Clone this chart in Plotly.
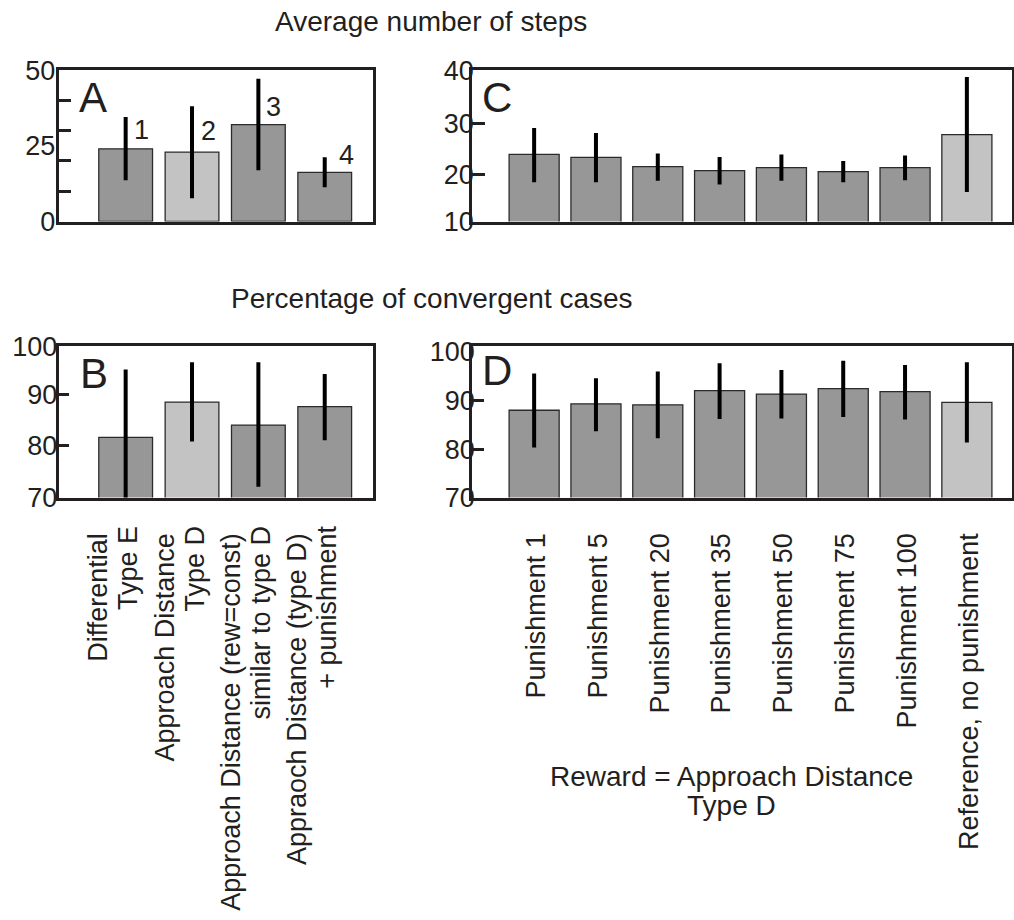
import plotly.graph_objects as go

# ---------------- data ----------------
cats_AB_line1 = [
    "Differential",
    "Approach Distance",
    "Approach Distance (rew=const)",
    "Appraoch Distance (type D)",
]
cats_AB_line2 = ["Type E", "Type D", "similar to type D", "+ punishment"]
cats_CD = [
    "Punishment 1", "Punishment 5", "Punishment 20", "Punishment 35",
    "Punishment 50", "Punishment 75", "Punishment 100", "Reference, no punishment",
]
bar_numbers = ["1", "2", "3", "4"]

steps_A = [24.0, 22.9, 32.0, 16.2]
steps_A_hi = [34.5, 38.0, 47.1, 21.2]
steps_A_lo = [13.6, 7.7, 16.9, 11.3]

conv_B = [81.6, 88.5, 84.0, 87.6]
conv_B_hi = [94.9, 96.3, 96.3, 94.0]
conv_B_lo = [68.3, 80.8, 71.9, 81.0]

steps_C = [23.9, 23.3, 21.5, 20.7, 21.3, 20.5, 21.3, 27.8]
steps_C_hi = [29.1, 28.1, 24.1, 23.4, 23.9, 22.6, 23.7, 39.1]
steps_C_lo = [18.4, 18.4, 18.7, 18.0, 18.7, 18.4, 18.8, 16.5]

conv_D = [88.1, 89.4, 89.2, 92.1, 91.4, 92.5, 91.9, 89.7]
conv_D_hi = [95.6, 94.6, 96.0, 97.7, 96.3, 98.2, 97.3, 97.9]
conv_D_lo = [80.5, 83.8, 82.4, 86.3, 86.4, 86.7, 86.2, 81.5]

# ---------------- style ----------------
DARK = "#979797"
LIGHT = "#c3c3c3"
INK = "#231f20"
FONT = "Liberation Sans, Arial, sans-serif"
W, H = 1014, 920

colors_AB = [DARK, LIGHT, DARK, DARK]
colors_CD = [DARK] * 7 + [LIGHT]

fig = go.Figure()


def add_bars(vals, hi, lo, colors, xa, ya):
    idx = list(range(len(vals)))
    fig.add_trace(go.Bar(
        x=idx, y=vals, width=0.81,
        marker=dict(color=colors, line=dict(color="#2b2b2b", width=1.3)),
        error_y=dict(type="data", symmetric=False,
                     array=[h - v for h, v in zip(hi, vals)],
                     arrayminus=[v - l for v, l in zip(vals, lo)],
                     color="black", thickness=4, width=0),
        xaxis=xa, yaxis=ya, showlegend=False, hoverinfo="skip",
    ))


add_bars(steps_A, steps_A_hi, steps_A_lo, colors_AB, "x", "y")
add_bars(conv_B, conv_B_hi, conv_B_lo, colors_AB, "x2", "y2")
add_bars(steps_C, steps_C_hi, steps_C_lo, colors_CD, "x3", "y3")
add_bars(conv_D, conv_D_hi, conv_D_lo, colors_CD, "x4", "y4")

# empty traces so the label-only overlay axes are drawn
for xa, ya in [("x", "y5"), ("x2", "y6"), ("x3", "y7"), ("x4", "y8"), ("x5", "y2")]:
    fig.add_trace(go.Scatter(x=[], y=[], xaxis=xa, yaxis=ya,
                             showlegend=False, hoverinfo="skip"))

# domains (paper fractions)
dxL = [59.3 / W, 372.5 / W]
dxR = [471.7 / W, 1012 / W]
dyT = [1 - 221.5 / H, 1 - 70 / H]
dyB = [1 - 497.5 / H, 1 - 346 / H]

frame = dict(showline=True, linewidth=3, linecolor=INK, mirror=True,
             showgrid=False, zeroline=False)
tickfont = dict(family=FONT, size=27, color=INK)
catfont = dict(family=FONT, size=27, color=INK)

rA = [0, 50]
rB = [69.8, 99.5]
rC = [10.7, 40.5]
rD = [70.3, 101.2]
rxL = [-1.0, 3.72]
rxR = [-1.01, 7.73]
STANDOFF = 22

layout = dict(
    width=W, height=H,
    margin=dict(l=0, r=0, t=0, b=0),
    paper_bgcolor="white", plot_bgcolor="white",
    font=dict(family=FONT, color=INK),
    xaxis=dict(domain=dxL, anchor="y", range=rxL, ticks="",
               showticklabels=False, automargin=False, **frame),
    xaxis2=dict(domain=dxL, anchor="y2", range=rxL, ticks="",
                tickvals=list(range(4)), ticktext=cats_AB_line1, tickangle=-90,
                tickfont=catfont, ticklabelstandoff=STANDOFF, ticklabelshift=-27,
                automargin=False, **frame),
    xaxis5=dict(overlaying="x2", anchor="y2", side="bottom", range=rxL, ticks="",
                tickvals=list(range(4)), ticktext=cats_AB_line2, tickangle=-90,
                tickfont=catfont, ticklabelstandoff=STANDOFF, ticklabelshift=3,
                showline=False, showgrid=False, zeroline=False, automargin=False),
    xaxis3=dict(domain=dxR, anchor="y3", range=rxR, ticks="",
                showticklabels=False, automargin=False, **frame),
    xaxis4=dict(domain=dxR, anchor="y4", range=rxR, ticks="",
                tickvals=list(range(8)), ticktext=cats_CD, tickangle=-90,
                tickfont=catfont, ticklabelstandoff=STANDOFF, ticklabelshift=2,
                automargin=False, **frame),
    # data axes: tick marks only
    yaxis=dict(domain=dyT, anchor="x", range=rA, tickvals=[10, 20, 30, 40],
               ticks="inside", ticklen=12, tickwidth=3, tickcolor=INK,
               showticklabels=False, automargin=False, **frame),
    yaxis2=dict(domain=dyB, anchor="x2", range=rB, tickvals=[80, 90],
                ticks="inside", ticklen=10, tickwidth=3, tickcolor=INK,
                showticklabels=False, automargin=False, **frame),
    yaxis3=dict(domain=dyT, anchor="x3", range=rC, tickvals=[20, 30],
                ticks="inside", ticklen=13, tickwidth=3, tickcolor=INK,
                showticklabels=False, automargin=False, **frame),
    yaxis4=dict(domain=dyB, anchor="x4", range=rD, tickvals=[80, 90],
                ticks="inside", ticklen=12, tickwidth=3, tickcolor=INK,
                showticklabels=False, automargin=False, **frame),
    # label axes
    yaxis5=dict(overlaying="y", anchor="x", side="left", range=rA,
                tickvals=[0.05, 25, 49.95], ticktext=["0", "25", "50"],
                ticks="", showline=False, showgrid=False, zeroline=False,
                tickfont=tickfont, ticklabelstandoff=3, automargin=False),
    yaxis6=dict(overlaying="y2", anchor="x2", side="left", range=rB,
                tickvals=[69.85, 80, 90, 99.45], ticktext=["70", "80", "90", "100"],
                ticks="", showline=False, showgrid=False, zeroline=False,
                tickfont=tickfont, ticklabelstandoff=1, automargin=False),
    yaxis7=dict(overlaying="y3", anchor="x3", side="left", range=rC,
                tickvals=[10.75, 20, 30, 40.45], ticktext=["10", "20", "30", "40"],
                ticks="", showline=False, showgrid=False, zeroline=False,
                tickfont=tickfont, ticklabelstandoff=-3, automargin=False),
    yaxis8=dict(overlaying="y4", anchor="x4", side="left", range=rD,
                tickvals=[70.35, 80, 90, 100], ticktext=["70", "80", "90", "100"],
                ticks="", showline=False, showgrid=False, zeroline=False,
                tickfont=tickfont, ticklabelstandoff=-4, automargin=False),
)
fig.update_layout(**layout)

ann = []
# panel letters
for letter, px, py in [("A", 77, 97), ("C", 480, 97), ("B", 78, 373), ("D", 480, 371)]:
    ann.append(dict(text=letter, xref="paper", yref="paper", x=px / W, y=1 - py / H,
                    xanchor="left", yanchor="middle", showarrow=False,
                    font=dict(family=FONT, size=42, color=INK)))
# bar numbers in panel A
num_pos = [(0.1, 30.2), (1.1, 29.9), (2.09, 37.8), (3.19, 22.0)]
for t, (nx, ny) in zip(bar_numbers, num_pos):
    ann.append(dict(text=t, xref="x", yref="y", x=nx, y=ny, xanchor="left",
                    yanchor="middle", showarrow=False,
                    font=dict(family=FONT, size=27, color=INK)))
# titles
for t, px, py in [("Average number of steps", 431, 22),
                  ("Percentage of convergent cases", 432, 298),
                  ("Reward = Approach Distance", 731, 776),
                  ("Type D", 731, 805)]:
    ann.append(dict(text=t, xref="paper", yref="paper", x=px / W, y=1 - py / H,
                    xanchor="center", yanchor="middle", showarrow=False,
                    font=dict(family=FONT, size=28, color=INK)))
fig.update_layout(annotations=ann)

fig.write_html("out.html", config={"displayModeBar": False},
               post_script="document.body.style.margin='0';")
